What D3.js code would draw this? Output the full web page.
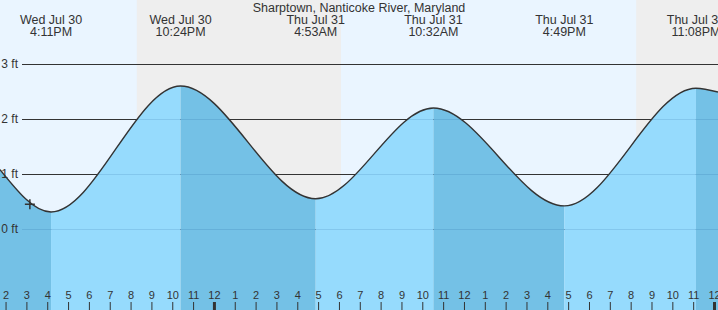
<!DOCTYPE html>
<html>
<head>
<meta charset="utf-8">
<script src="https://cdn.jsdelivr.net/npm/d3@7"></script>
<style>
  body { margin: 0; background: #fff; }
  svg { display: block; font-family: "Liberation Sans", Arial, sans-serif; }
</style>
</head>
<body>
<svg id="chart" width="718" height="310"></svg>
<script>
// data
const title = "Sharptown, Nanticoke River, Maryland";
const viewStart = "2025-07-30T13:44";
const viewEnd = "2025-08-01T00:11:30";
const tideTimes = ["2025-07-30T13:44", "2025-07-30T16:11", "2025-07-30T22:24", "2025-07-31T04:53",
                   "2025-07-31T10:32", "2025-07-31T16:49", "2025-07-31T23:08", "2025-08-01T00:11:30"];
const tideFeet = [1.08, 0.31, 2.6, 0.55, 2.2, 0.42, 2.56, 2.49];
const eventDays = ["Wed Jul 30", "Wed Jul 30", "Thu Jul 31", "Thu Jul 31", "Thu Jul 31", "Thu Jul 31"];
const eventClock = ["4:11PM", "10:24PM", "4:53AM", "10:32AM", "4:49PM", "11:08PM"];
const nightStarts = ["2025-07-30T20:18", "2025-07-31T20:16"];
const nightEnds = ["2025-07-31T06:06", "2025-08-01T00:11:30"];
const yTicks = [0, 1, 2, 3];
const nowTime = "2025-07-30T15:10";
const nowFeet = 0.45;

const W = 718, H = 310;
const tide = tideTimes.map((t, i) => ({ t: new Date(t), v: tideFeet[i] }));
const events = tide.slice(1, -1).map((d, i) => ({ ...d, day: eventDays[i], clock: eventClock[i] }));

const x = d3.scaleTime().domain([new Date(viewStart), new Date(viewEnd)]).range([0, W]);
const y = d3.scaleLinear().domain([0, 3]).range([229, 64]);

const svg = d3.select("#chart");

// day / night background
svg.append("rect").attr("width", W).attr("height", H).attr("fill", "#eaf5ff");
svg.selectAll(".night").data(nightStarts).join("rect")
  .attr("class", "night")
  .attr("x", d => x(new Date(d)))
  .attr("width", (d, i) => x(new Date(nightEnds[i])) - x(new Date(d)))
  .attr("y", 0).attr("height", H)
  .attr("fill", "#eeeeee");

// grid (dark part, shows above the water)
svg.append("g").selectAll("line").data(yTicks).join("line")
  .attr("x1", 22).attr("x2", W)
  .attr("y1", d => y(d)).attr("y2", d => y(d))
  .attr("stroke", "#333").attr("stroke-width", 1).attr("shape-rendering", "crispEdges");

// water
const area = d3.area().x(d => x(d.t)).y0(H).y1(d => y(d.v)).curve(d3.curveMonotoneX);
const line = d3.line().x(d => x(d.t)).y(d => y(d.v)).curve(d3.curveMonotoneX);

svg.append("clipPath").attr("id", "water")
  .append("path").attr("d", area(tide));

const wg = svg.append("g").attr("clip-path", "url(#water)");
wg.selectAll("rect").data(d3.pairs(tide)).join("rect")
  .attr("x", d => x(d[0].t))
  .attr("width", d => x(d[1].t) - x(d[0].t))
  .attr("y", 0).attr("height", H)
  .attr("fill", d => d[1].v > d[0].v ? "#96dbfd" : "#74c1e6");
wg.selectAll("line").data(yTicks).join("line")
  .attr("x1", 22).attr("x2", W)
  .attr("y1", d => y(d)).attr("y2", d => y(d))
  .attr("stroke", "rgba(0,60,120,0.12)").attr("shape-rendering", "crispEdges");

svg.append("path").attr("d", line(tide))
  .attr("fill", "none").attr("stroke", "#333").attr("stroke-width", 1.4);

// y labels
svg.append("g").selectAll("text").data(yTicks).join("text")
  .attr("x", 18).attr("y", d => y(d)).attr("dy", "0.35em")
  .attr("text-anchor", "end")
  .style("font-size", "12px").style("fill", "#333")
  .text(d => `${d} ft`);

// hour axis along the bottom
svg.append("g")
  .attr("transform", `translate(0,${H})`)
  .call(d3.axisTop(x).ticks(d3.timeHour.every(1)).tickSize(8).tickPadding(3).tickFormat(d3.timeFormat("%-I")))
  .call(ax => {
    ax.select(".domain").remove();
    ax.selectAll(".tick line").attr("stroke", "#333")
      .attr("stroke-width", d => d.getHours() === 0 ? 3 : 1);
    ax.selectAll(".tick text").style("fill", "#333").style("font-size", "11px")
      .style("font-family", "\"Liberation Sans\", Arial, sans-serif");
  });

// current level marker
const cx = x(new Date(nowTime)), cy = y(nowFeet);
svg.append("path")
  .attr("d", `M${cx - 5},${cy}H${cx + 5}M${cx},${cy - 5}V${cy + 5}`)
  .attr("stroke", "#333").attr("stroke-width", 1.5);

// header
svg.append("text")
  .attr("x", W / 2).attr("y", 12).attr("text-anchor", "middle")
  .style("font-size", "12.5px").style("fill", "#333")
  .text(title);

const ev = svg.append("g").selectAll("g").data(events).join("g")
  .attr("transform", d => `translate(${x(d.t)},0)`);
ev.append("text").attr("y", 24).attr("text-anchor", "middle")
  .style("font-size", "12.5px").style("fill", "#333").text(d => d.day);
ev.append("text").attr("y", 36).attr("text-anchor", "middle")
  .style("font-size", "12.5px").style("fill", "#333").text(d => d.clock);
</script>
</body>
</html>
